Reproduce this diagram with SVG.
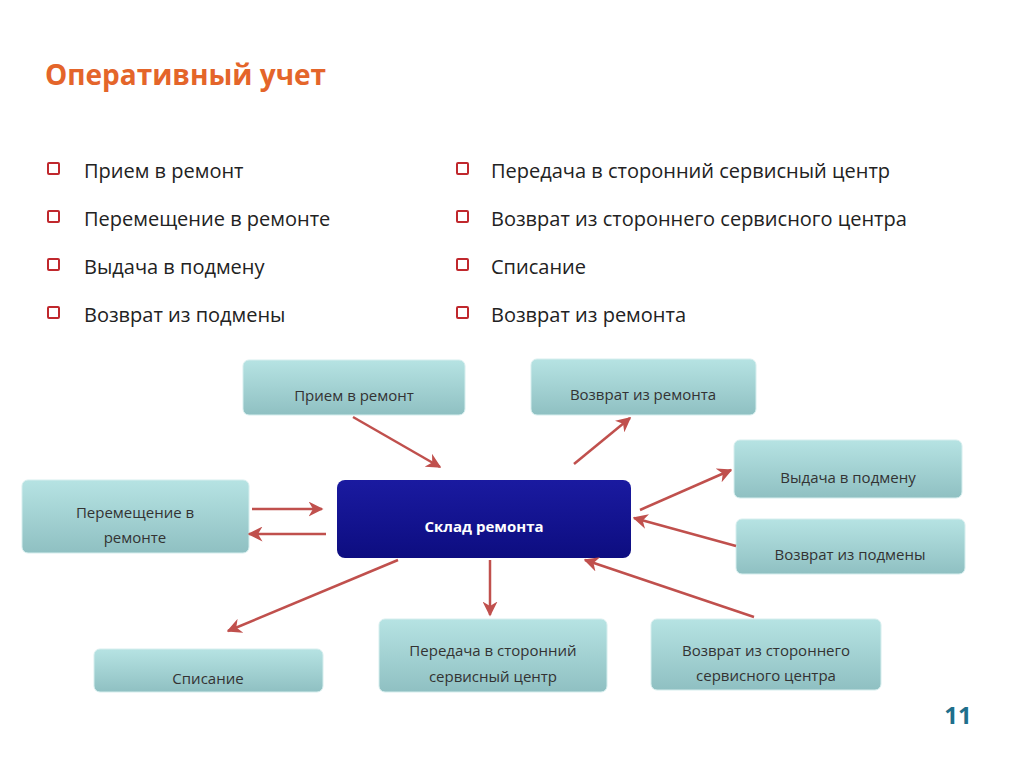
<svg xmlns="http://www.w3.org/2000/svg" width="1024" height="767" viewBox="0 0 1024 767">
<defs>
<linearGradient id="teal" x1="0" y1="0" x2="0" y2="1"><stop offset="0" stop-color="#b6e3e3"/><stop offset="1" stop-color="#8fc0c2"/></linearGradient>
<linearGradient id="navy" x1="0" y1="0" x2="0" y2="1"><stop offset="0" stop-color="#1a1aa0"/><stop offset="1" stop-color="#0d0d80"/></linearGradient>
<marker id="ah" viewBox="0 0 10 10" refX="9" refY="5" markerWidth="6" markerHeight="6" orient="auto-start-reverse"><path d="M0,0 L10,5 L0,10 L3,5 z" fill="#c0504d"/></marker>
</defs>
<style>
.n rect{fill:url(#teal);stroke:#d6eeee;stroke-width:1}
.n text{font-family:"Open Sans","Liberation Sans",sans-serif;font-size:15px;fill:#333;text-anchor:middle}
.b{font-family:"Open Sans","Liberation Sans",sans-serif;font-size:20px;fill:#222}
.box{fill:#fff;stroke:#c0282d;stroke-width:2}
#conn line{stroke:#c0504d;stroke-width:2.5;marker-end:url(#ah)}
</style>
<rect width="1024" height="767" fill="#fff"/>
<text x="45" y="85" font-family="Open Sans,Liberation Sans,sans-serif" font-size="28" font-weight="bold" fill="#e4652a">Оперативный учет</text>
<g>
<rect class="box" x="48" y="163" width="11" height="11" rx="1"/><text class="b" x="84" y="178">Прием в ремонт</text>
<rect class="box" x="48" y="211" width="11" height="11" rx="1"/><text class="b" x="84" y="226">Перемещение в ремонте</text>
<rect class="box" x="48" y="259" width="11" height="11" rx="1"/><text class="b" x="84" y="274">Выдача в подмену</text>
<rect class="box" x="48" y="307" width="11" height="11" rx="1"/><text class="b" x="84" y="322">Возврат из подмены</text>
<rect class="box" x="457" y="163" width="11" height="11" rx="1"/><text class="b" x="491" y="178">Передача в сторонний сервисный центр</text>
<rect class="box" x="457" y="211" width="11" height="11" rx="1"/><text class="b" x="491" y="226">Возврат из стороннего сервисного центра</text>
<rect class="box" x="457" y="259" width="11" height="11" rx="1"/><text class="b" x="491" y="274">Списание</text>
<rect class="box" x="457" y="307" width="11" height="11" rx="1"/><text class="b" x="491" y="322">Возврат из ремонта</text>
</g>
<g id="center"><rect x="337" y="480" width="294" height="78" rx="8" fill="url(#navy)"/><text x="484" y="532" font-family="Open Sans,Liberation Sans,sans-serif" font-size="15" font-weight="bold" fill="#fff" text-anchor="middle">Склад ремонта</text></g>
<g id="n1" class="n"><rect x="243" y="360" width="222" height="55" rx="6"/><text x="354" y="401">Прием в ремонт</text></g>
<g id="n2" class="n"><rect x="531" y="359" width="225" height="56" rx="6"/><text x="643" y="400">Возврат из ремонта</text></g>
<g id="n3" class="n"><rect x="734" y="440" width="228" height="58" rx="6"/><text x="848" y="483">Выдача в подмену</text></g>
<g id="n4" class="n"><rect x="736" y="519" width="229" height="55" rx="6"/><text x="850" y="560">Возврат из подмены</text></g>
<g id="n5" class="n"><rect x="22" y="480" width="227" height="73" rx="6"/><text x="135" y="518">Перемещение в</text><text x="135" y="543">ремонте</text></g>
<g id="n6" class="n"><rect x="94" y="649" width="229" height="43" rx="6"/><text x="208" y="684">Списание</text></g>
<g id="n7" class="n"><rect x="379" y="619" width="228" height="73" rx="6"/><text x="493" y="656">Передача в сторонний</text><text x="493" y="682">сервисный центр</text></g>
<g id="n8" class="n"><rect x="651" y="619" width="230" height="71" rx="6"/><text x="766" y="656">Возврат из стороннего</text><text x="766" y="681">сервисного центра</text></g>
<g id="conn">
<line x1="353" y1="417" x2="440" y2="467"/>
<line x1="574" y1="464" x2="630" y2="418"/>
<line x1="640" y1="510" x2="731" y2="470"/>
<line x1="736" y1="546" x2="634" y2="518"/>
<line x1="252" y1="509" x2="322" y2="509"/>
<line x1="326" y1="534" x2="249" y2="534"/>
<line x1="398" y1="560" x2="228" y2="631"/>
<line x1="490" y1="560" x2="490" y2="615"/>
<line x1="754" y1="617" x2="585" y2="560"/>
</g>
<text x="958" y="724" font-family="Open Sans,Liberation Sans,sans-serif" font-size="24" font-weight="bold" fill="#1f6f8b" text-anchor="middle">11</text>
</svg>
